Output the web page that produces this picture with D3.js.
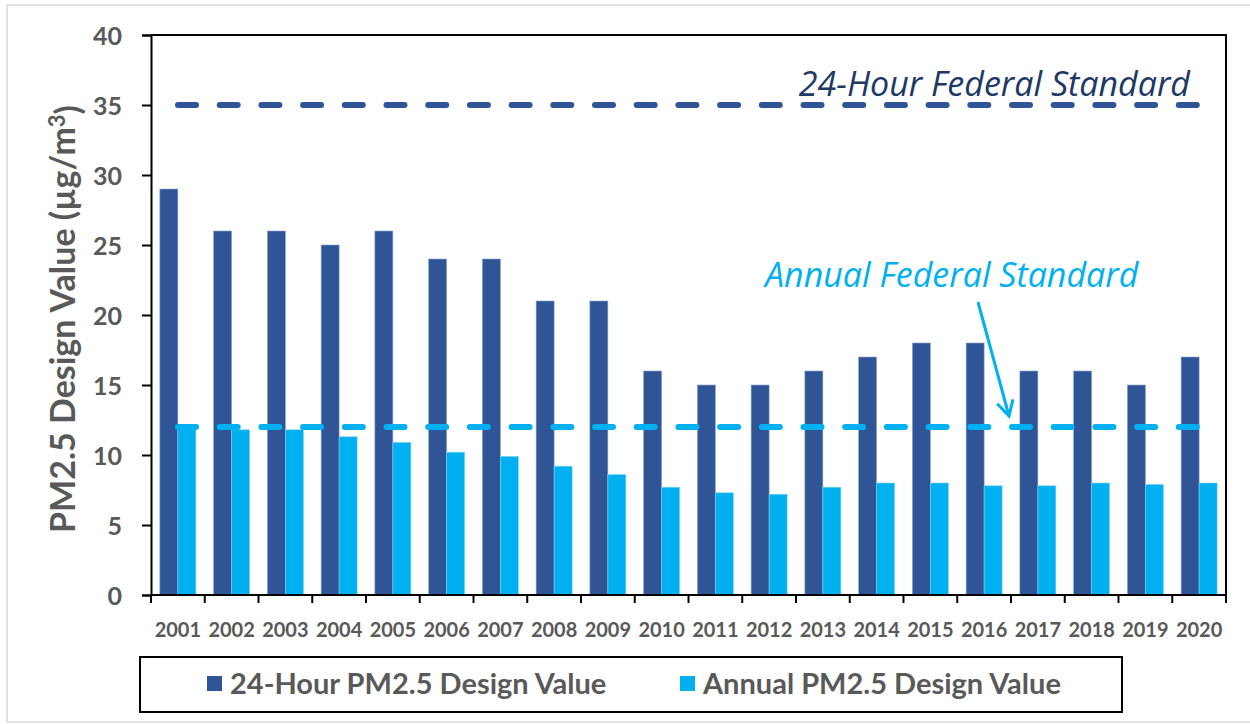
<!DOCTYPE html>
<html>
<head>
<meta charset="utf-8">
<script src="https://cdn.jsdelivr.net/npm/d3@7"></script>
<style>
  body { margin: 0; background: #fff; }
  svg text { font-family: Lato, "Noto Sans", sans-serif; }
  svg text.note { font-family: "Open Sans", Lato, sans-serif; }
</style>
</head>
<body>
<div id="chart"></div>
<script>
// data
var years = ["2001","2002","2003","2004","2005","2006","2007","2008","2009","2010",
             "2011","2012","2013","2014","2015","2016","2017","2018","2019","2020"];
var dv24hr = [29, 26, 26, 25, 26, 24, 24, 21, 21, 16, 15, 15, 16, 17, 18, 18, 16, 16, 15, 17];
var dvAnnual = [12.0, 11.8, 11.8, 11.3, 10.9, 10.2, 9.9, 9.2, 8.6, 7.7, 7.3, 7.2, 7.7, 8.0, 8.0, 7.8, 7.8, 8.0, 7.9, 8.0];
var yTicks = [0, 5, 10, 15, 20, 25, 30, 35, 40];
var std24hr = 35, stdAnnual = 12;
var seriesNames = ["24-Hour PM2.5 Design Value", "Annual PM2.5 Design Value"];

var darkBlue = "#2f5597", lightBlue = "#00b0f0", grey = "#595959";

// set the dimensions and margins of the graph
var W = 1250, H = 724;
var margin = {top: 35, right: 24, bottom: 129, left: 151},
    width = W - margin.left - margin.right,
    height = H - margin.top - margin.bottom;

var root = d3.select("#chart").append("svg")
    .attr("width", W)
    .attr("height", H);

// outer light frame
root.append("rect")
    .attr("x", 7).attr("y", 5)
    .attr("width", W + 10).attr("height", H - 7)
    .attr("fill", "none").attr("stroke", "#d9d9d9").attr("stroke-width", 1.5);

var svg = root.append("g")
    .attr("transform", "translate(" + margin.left + "," + margin.top + ")");

var x = d3.scaleBand().domain(years).range([0, width]).paddingInner(0).paddingOuter(0);
var y = d3.scaleLinear().domain([0, 40]).range([height, 0]);

var bw = x.bandwidth() * 0.335;
var off = (x.bandwidth() - 2 * bw) / 2;

// bars
svg.append("g").selectAll("rect")
    .data(dv24hr)
    .enter().append("rect")
      .attr("x", function(d, i) { return x(years[i]) + off; })
      .attr("y", function(d) { return y(d); })
      .attr("width", bw)
      .attr("height", function(d) { return height - y(d); })
      .attr("fill", darkBlue)
      .attr("stroke", "#8fa6cf").attr("stroke-width", 0.6);

svg.append("g").selectAll("rect")
    .data(dvAnnual)
    .enter().append("rect")
      .attr("x", function(d, i) { return x(years[i]) + off + bw; })
      .attr("y", function(d) { return y(d); })
      .attr("width", bw)
      .attr("height", function(d) { return height - y(d); })
      .attr("fill", lightBlue)
      .attr("stroke", "#7fd6f6").attr("stroke-width", 0.6);

// plot frame (top + right)
svg.append("path")
    .attr("d", "M0,0H" + width + "V" + height)
    .attr("fill", "none").attr("stroke", "#000").attr("stroke-width", 2);

// Y axis
var yAxis = svg.append("g")
    .call(d3.axisLeft(y).tickValues(yTicks).tickSize(9).tickPadding(20));
yAxis.select(".domain").attr("stroke", "#000").attr("stroke-width", 2);
yAxis.selectAll(".tick line").attr("stroke", "#000").attr("stroke-width", 2);
yAxis.selectAll(".tick text")
    .attr("fill", grey).style("font-size", "25px").style("font-weight", "bold")
    .attr("dy", "0.36em");

// X axis: ticks at category boundaries
var xAxis = svg.append("g").attr("transform", "translate(0," + height + ")");
xAxis.append("line").attr("x1", 0).attr("x2", width)
    .attr("stroke", "#000").attr("stroke-width", 2);
xAxis.selectAll("line.tk")
    .data(years.concat(["end"]))
    .enter().append("line")
      .attr("class", "tk")
      .attr("x1", function(d, i) { return i * x.step(); })
      .attr("x2", function(d, i) { return i * x.step(); })
      .attr("y1", 0).attr("y2", 8)
      .attr("stroke", "#000").attr("stroke-width", 2);
xAxis.selectAll("text")
    .data(years)
    .enter().append("text")
      .attr("x", function(d) { return x(d) + x.bandwidth() / 2; })
      .attr("y", 42)
      .attr("text-anchor", "middle")
      .attr("fill", grey)
      .style("font-size", "20px").style("font-weight", "bold")
      .text(function(d) { return d; });

// y axis title
var yt = root.append("text")
    .attr("transform", "translate(75,319) rotate(-90)")
    .attr("text-anchor", "middle")
    .attr("fill", grey)
    .style("font-size", "34px").style("font-weight", "bold");
yt.append("tspan").text("PM2.5 Design Value (µg/m");
yt.append("tspan").attr("dy", "-0.45em").style("font-size", "22px").text("3");
yt.append("tspan").attr("dy", "0.45em").text(")");

// standard lines
var lx0 = 27, lx1 = width - 25;
svg.append("line")
    .attr("x1", lx0).attr("x2", lx1)
    .attr("y1", y(std24hr)).attr("y2", y(std24hr))
    .attr("stroke", darkBlue).attr("stroke-width", 6)
    .attr("stroke-linecap", "round").attr("stroke-dasharray", "18 23.7");
svg.append("line")
    .attr("x1", lx0).attr("x2", lx1)
    .attr("y1", y(stdAnnual)).attr("y2", y(stdAnnual))
    .attr("stroke", lightBlue).attr("stroke-width", 6)
    .attr("stroke-linecap", "round").attr("stroke-dasharray", "18 23.7");

// annotations
root.append("text")
    .attr("class", "note")
    .attr("x", 1190).attr("y", 96)
    .attr("text-anchor", "end")
    .attr("fill", "#203864")
    .style("font-size", "34px").style("font-style", "italic")
    .text("24-Hour Federal Standard");
root.append("text")
    .attr("class", "note")
    .attr("x", 765).attr("y", 287)
    .attr("fill", lightBlue)
    .style("font-size", "34px").style("font-style", "italic")
    .text("Annual Federal Standard");

// arrow to annual standard
var ax0 = 978, ay0 = 302, ax1 = 1009, ay1 = 416;
root.append("line")
    .attr("x1", ax0).attr("y1", ay0).attr("x2", ax1).attr("y2", ay1)
    .attr("stroke", lightBlue).attr("stroke-width", 3);
var ang = Math.atan2(ay1 - ay0, ax1 - ax0), hl = 17, ha = 0.5;
root.append("path")
    .attr("d", "M" + (ax1 - hl * Math.cos(ang - ha)) + "," + (ay1 - hl * Math.sin(ang - ha)) +
               "L" + ax1 + "," + ay1 +
               "L" + (ax1 - hl * Math.cos(ang + ha)) + "," + (ay1 - hl * Math.sin(ang + ha)))
    .attr("fill", "none").attr("stroke", lightBlue).attr("stroke-width", 3)
    .attr("stroke-linejoin", "miter");

// legend
var legend = root.append("g");
legend.append("rect")
    .attr("x", 140).attr("y", 657).attr("width", 982).attr("height", 55)
    .attr("fill", "#fff").attr("stroke", "#000").attr("stroke-width", 2);
var legX = [207, 680], legC = [darkBlue, lightBlue];
seriesNames.forEach(function(name, i) {
  legend.append("rect")
      .attr("x", legX[i]).attr("y", 676).attr("width", 15).attr("height", 15)
      .attr("fill", legC[i]);
  legend.append("text")
      .attr("x", legX[i] + 23).attr("y", 694)
      .attr("fill", grey)
      .style("font-size", "29px").style("font-weight", "bold")
      .text(name);
});
</script>
</body>
</html>
